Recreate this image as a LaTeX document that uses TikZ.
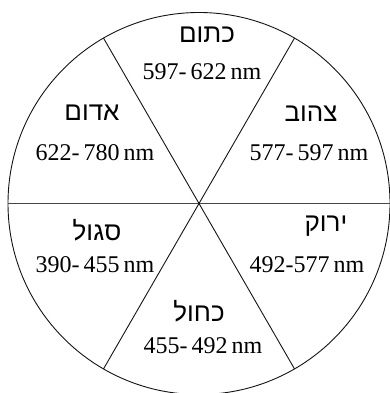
\documentclass[tikz,border=0pt]{standalone}
\usepackage{fontspec}
\setmainfont{Liberation Serif}
\newfontfamily\hebfont[Script=Hebrew]{Liberation Sans}
\TeXXeTstate=1
\usetikzlibrary{calc}

\definecolor{wheelLine}{RGB}{20,20,20}
\definecolor{wheelAxis}{RGB}{70,70,70}

\tikzset{
  colname/.style={anchor=base, font=\hebfont\fontsize{26}{30}\selectfont},
  colrange/.style={anchor=base, font=\fontsize{24}{28}\selectfont}
}

\begin{document}
\begin{tikzpicture}[x=1pt, y=1pt]
  \useasboundingbox (0,0) rectangle (389,393);
  \coordinate (c) at (199,189.5);
  \draw[line width=0.9pt, draw=wheelLine] (c) circle (191);
  \draw[line width=1.3pt, draw=wheelAxis] ($(c)+(180:191)$) -- ($(c)+(0:191)$);
  \foreach \a in {60,120}
    \draw[line width=0.9pt, draw=wheelLine] ($(c)+(\a:191)$) -- ($(c)+(\a+180:191)$);
  % top
  \node[colname] (orangeName) at (207,350) {\beginR כתום\endR};
  \node[colrange] (orangeRange) at (202,313) {597-\,622\,nm};
  % upper left
  \node[colname] (redName) at (92,272) {\beginR אדום\endR};
  \node[colrange] (redRange) at (95,232) {622-\,780\,nm};
  % upper right
  \node[colname] (yellowName) at (311,271) {\beginR צהוב\endR};
  \node[colrange] (yellowRange) at (309,232) {577-\,597\,nm};
  % lower right
  \node[colname] (greenName) at (326,161) {\beginR ירוק\endR};
  \node[colrange] (greenRange) at (307,120) {492-577\,nm};
  % lower left
  \node[colname] (violetName) at (97,152) {\beginR סגול\endR};
  \node[colrange] (violetRange) at (95,120) {390-\,455\,nm};
  % bottom
  \node[colname] (blueName) at (199,71) {\beginR כחול\endR};
  \node[colrange] (blueRange) at (203,39) {455-\,492\,nm};
\end{tikzpicture}
\end{document}
